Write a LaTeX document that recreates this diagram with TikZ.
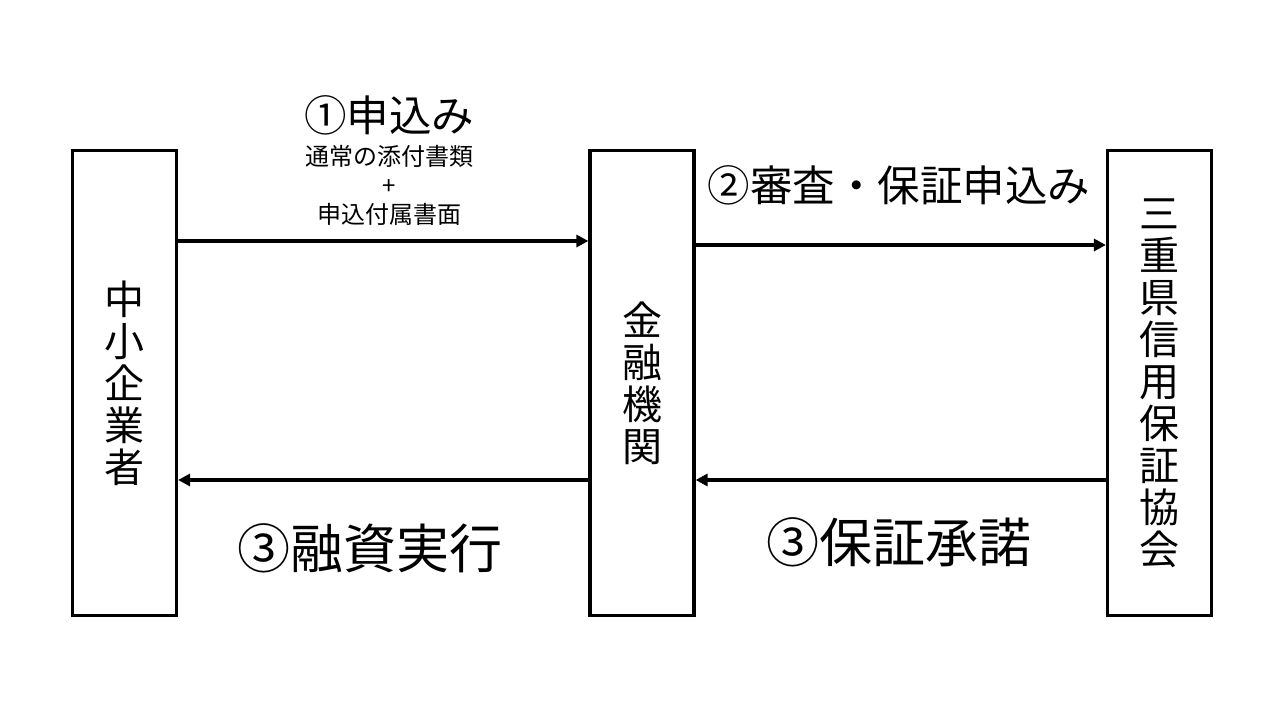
\documentclass[tikz,border=0pt]{standalone}
\usepackage{fontspec}
\newfontfamily\jpfont{Noto Sans CJK JP}
\usetikzlibrary{positioning,arrows.meta}

\begin{document}
\begin{tikzpicture}[
  x=1pt, y=1pt,
  % Party box style
  party/.style={
    rectangle,
    draw=black,
    line width=3.2pt,
    minimum width=104pt,
    minimum height=465pt,
    inner sep=0pt,
    align=center,
    font=\jpfont\fontsize{40}{42}\selectfont
  },
  % Arrow style
  arrow/.style={
    -{Triangle[length=12pt, width=12pt]},
    line width=3.6pt,
    draw=black
  },
  % Label styles
  biglabel/.style={font=\jpfont\fontsize{42.5}{44}\selectfont, inner sep=0pt},
  hugelabel/.style={font=\jpfont\fontsize{53}{55}\selectfont, inner sep=0pt},
  smalllabel/.style={font=\jpfont\fontsize{24}{29}\selectfont, align=center, inner sep=0pt}
]
\useasboundingbox (0,0) rectangle (1280,720);

% === NODES ===
\node[party] (sme) at (124.5,337) {中\\小\\企\\業\\者};
\node[party] (bank) at (642,337) {金\\融\\機\\関};
\node[party] (assoc) at (1159.5,337) {三\\重\\県\\信\\用\\保\\証\\協\\会};

% === ARROWS ===
\draw[arrow] ([yshift=142pt]sme.east) -- ([yshift=142pt]bank.west);
\draw[arrow] ([yshift=138pt]bank.east) -- ([yshift=138pt]assoc.west);
\draw[arrow] ([yshift=-97pt]bank.west) -- ([yshift=-97pt]sme.east);
\draw[arrow] ([yshift=-97pt]assoc.west) -- ([yshift=-97pt]bank.east);

% === LABELS ===
\node[biglabel] (apply) at (389,605) {①申込み};
\node[smalllabel] (docs) at (389,535) {通常の添付書類\\+\\申込付属書面};
\node[biglabel] (review) at (899,535) {②審査・保証申込み};
\node[hugelabel] (loan) at (370,172) {③融資実行};
\node[hugelabel] (accept) at (899,178) {③保証承諾};

\end{tikzpicture}
\end{document}
